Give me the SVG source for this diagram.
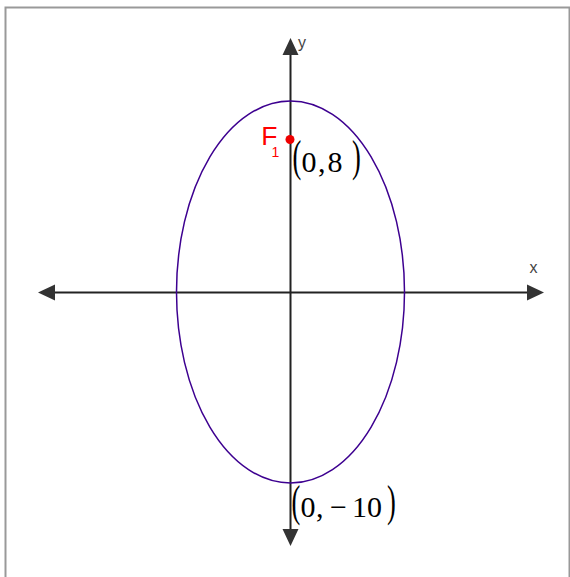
<svg xmlns="http://www.w3.org/2000/svg" width="570" height="577" viewBox="0 0 570 577">
<style>
.axis{stroke:#222;stroke-width:2;fill:none}
.ah{fill:#333}
.lbl{font-family:"Liberation Sans",Arial,sans-serif;font-size:16px;fill:#444}
.m{font-family:"Liberation Serif","Times New Roman",serif;font-size:30px;fill:#000}
.p{font-family:"Liberation Serif","Times New Roman",serif;font-size:44px;fill:#000}
.red{font-family:"Liberation Sans",Arial,sans-serif;fill:#f00}
</style>
<rect x="0" y="0" width="570" height="577" fill="#fff"/>
<path d="M5.5,577 V7.5 H569.5 V577" fill="none" stroke="#999" stroke-width="2"/>
<g id="connectors">
<line class="axis" x1="52" y1="292.5" x2="530" y2="292.5"/>
<line class="axis" x1="290.5" y1="52" x2="290.5" y2="532"/>
<polygon class="ah" points="38,292.5 55,284.5 55,300.5"/>
<polygon class="ah" points="544,292.5 527,284.5 527,300.5"/>
<polygon class="ah" points="290.5,38 282.5,55 298.5,55"/>
<polygon class="ah" points="290.5,546 282.5,529 298.5,529"/>
</g>
<g id="ellipse">
<ellipse cx="290.5" cy="292" rx="114" ry="191" fill="none" stroke="#3d0090" stroke-width="1.5"/>
</g>
<g id="labels">
<text class="lbl" x="298" y="48">y</text>
<text class="lbl" x="529.5" y="273">x</text>
</g>
<g id="focus">
<circle cx="290" cy="139.5" r="4.5" fill="#e00"/>
<text class="red" x="261.2" y="145" font-size="26.5"><tspan letter-spacing="-6">F</tspan><tspan font-size="14" dy="12">1</tspan></text>
<text class="p" transform="translate(292.5,171) scale(0.6,1)">(</text>
<text class="m" x="301.5 318 327.5" y="172">0,8</text>
<text class="p" transform="translate(352,171) scale(0.6,1)">)</text>
</g>
<g id="vertex">
<text class="p" transform="translate(291.5,516) scale(0.6,1)">(</text>
<text class="m" x="300.5 316 330 352 367" y="517">0,−10</text>
<text class="p" transform="translate(387,516) scale(0.6,1)">)</text>
</g>
</svg>
